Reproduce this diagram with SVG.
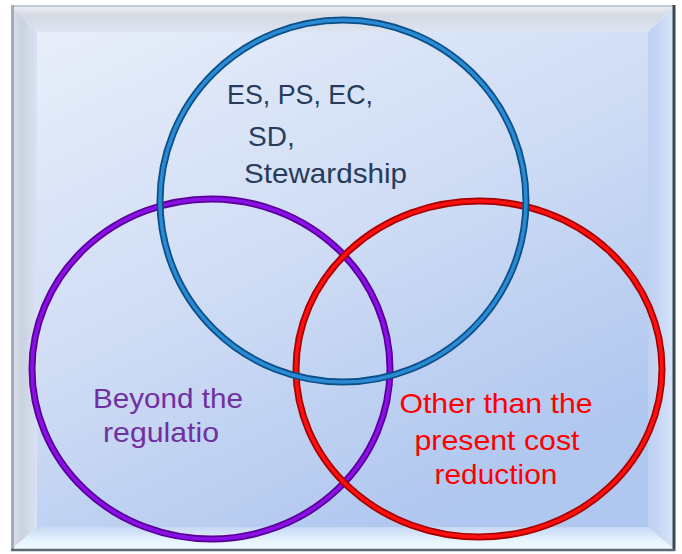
<svg xmlns="http://www.w3.org/2000/svg" width="682" height="554" viewBox="0 0 682 554">
<defs>
<linearGradient id="panel" x1="0" y1="0" x2="0.6" y2="1">
<stop offset="0" stop-color="#e8eefa"/>
<stop offset="0.5" stop-color="#d0ddf5"/>
<stop offset="1" stop-color="#b0c7ef"/>
</linearGradient>
<linearGradient id="topBevel" x1="0" y1="0" x2="0" y2="1">
<stop offset="0" stop-color="#eef0f4"/>
<stop offset="0.4" stop-color="#d4d9e3"/>
<stop offset="1" stop-color="#dde4f1"/>
</linearGradient>
<linearGradient id="leftBevel" x1="0" y1="0" x2="1" y2="0">
<stop offset="0" stop-color="#dfe3ea"/>
<stop offset="0.4" stop-color="#c9d1e0"/>
<stop offset="1" stop-color="#d8e2f4"/>
</linearGradient>
<linearGradient id="botBevel" x1="0" y1="0" x2="0" y2="1">
<stop offset="0" stop-color="#c6d7f3"/>
<stop offset="0.6" stop-color="#e6f4fd"/>
<stop offset="1" stop-color="#f2fcff"/>
</linearGradient>
<linearGradient id="rightBevel" x1="0" y1="0" x2="1" y2="0">
<stop offset="0" stop-color="#bccff0"/>
<stop offset="0.6" stop-color="#cddcf6"/>
<stop offset="1" stop-color="#d8e4f8"/>
</linearGradient>
<style>
.tube { fill: none; }
.t { font-family: "Liberation Sans", Arial, sans-serif; font-size: 28px; }
.blueT { fill: #263c5a; }
.purpT { fill: #7030a0; text-anchor: middle; }
.redT { fill: #ff0000; text-anchor: middle; }
</style>
</defs>
<rect x="0" y="0" width="682" height="554" fill="#ffffff"/>
<g id="frame">
<polygon points="11,5 675,5 648,32 37,32" fill="url(#topBevel)"/>
<polygon points="11,5 37,32 37,527 11,550" fill="url(#leftBevel)"/>
<polygon points="11,550 37,527 648,527 675,550" fill="url(#botBevel)"/>
<polygon points="675,5 675,550 648,527 648,32" fill="url(#rightBevel)"/>
<rect x="37" y="32" width="611" height="495" fill="url(#panel)"/>
<line x1="11" y1="6" x2="675" y2="6" stroke="#c4c8cf" stroke-width="2"/>
<line x1="12.5" y1="5" x2="12.5" y2="550" stroke="#a6acb6" stroke-width="3"/>
<line x1="674" y1="5" x2="674" y2="551" stroke="#3e4652" stroke-width="3"/>
<line x1="11" y1="550" x2="675" y2="550" stroke="#5e6874" stroke-width="2.5"/>
</g>
<g id="purple-circle">
<ellipse cx="211" cy="369" rx="179" ry="170" class="tube" stroke="#5a0096" stroke-width="7"/>
<ellipse cx="211" cy="369" rx="179" ry="170" class="tube" stroke="#8a10e8" stroke-width="3.5"/>
</g>
<g id="red-circle">
<ellipse cx="479" cy="369" rx="183" ry="168" class="tube" stroke="#a80000" stroke-width="7"/>
<ellipse cx="479" cy="369" rx="183" ry="168" class="tube" stroke="#ff1010" stroke-width="3.5"/>
</g>
<g id="blue-circle">
<ellipse cx="343" cy="201" rx="183" ry="181" class="tube" stroke="#0c4f86" stroke-width="7"/>
<ellipse cx="343" cy="201" rx="183" ry="181" class="tube" stroke="#2a8ad4" stroke-width="3.5"/>
</g>
<g id="label-top">
<text class="t blueT" x="227" y="104" textLength="146" lengthAdjust="spacingAndGlyphs">ES, PS, EC,</text>
<text class="t blueT" x="248" y="146">SD,</text>
<text class="t blueT" x="244" y="183" textLength="163" lengthAdjust="spacingAndGlyphs">Stewardship</text>
</g>
<g id="label-left">
<text class="t purpT" x="168" y="408" textLength="150" lengthAdjust="spacingAndGlyphs">Beyond the</text>
<text class="t purpT" x="161" y="442" textLength="116" lengthAdjust="spacingAndGlyphs">regulatio</text>
</g>
<g id="label-right">
<text class="t redT" x="496" y="413" textLength="193" lengthAdjust="spacingAndGlyphs">Other than the</text>
<text class="t redT" x="497" y="450" textLength="165" lengthAdjust="spacingAndGlyphs">present cost</text>
<text class="t redT" x="496" y="484" textLength="123" lengthAdjust="spacingAndGlyphs">reduction</text>
</g>
</svg>
